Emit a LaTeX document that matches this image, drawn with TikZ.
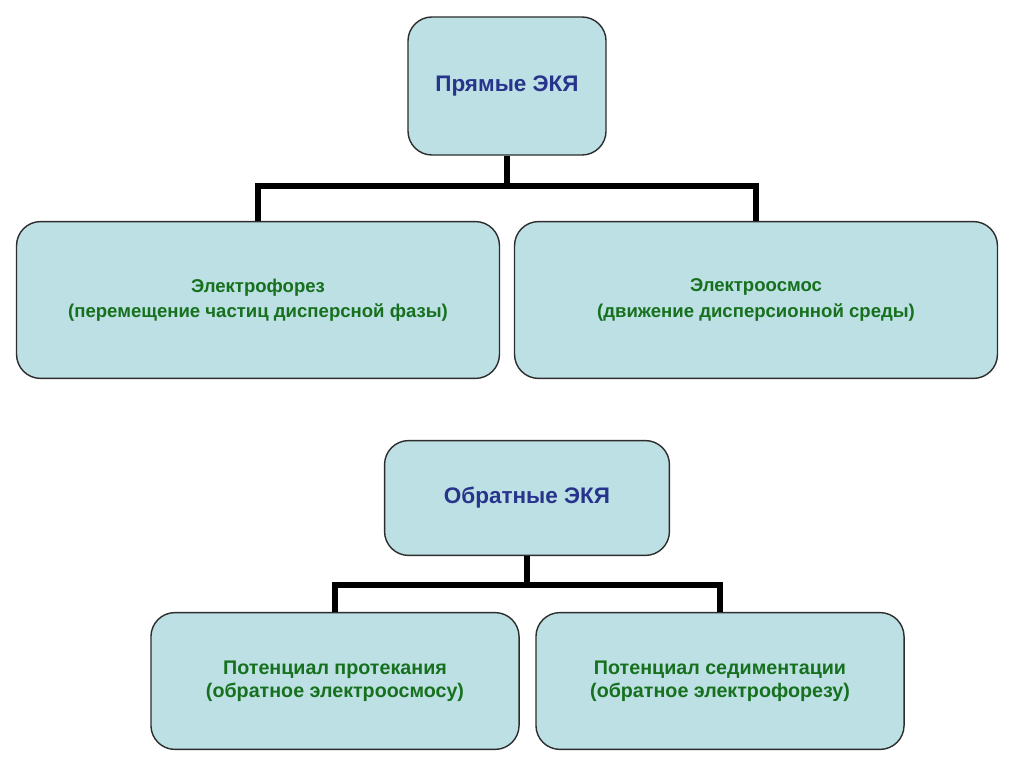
\documentclass[tikz,border=0pt]{standalone}
\usepackage{fontspec}
\setmainfont{Liberation Sans}
\usepackage{tikz}
\usetikzlibrary{positioning,calc}
\definecolor{boxfill}{RGB}{188,224,227}
\definecolor{boxline}{RGB}{45,45,45}
\definecolor{headblue}{RGB}{40,52,140}
\definecolor{subgreen}{RGB}{22,112,30}
\tikzset{
  headbox/.style={draw=boxline, line width=1pt, fill=boxfill, rounded corners=0.6cm, align=center, font=\bfseries\fontsize{16}{19}\selectfont, text=headblue},
  kindbox/.style={draw=boxline, line width=1pt, fill=boxfill, rounded corners=0.6cm, align=center, font=\bfseries\fontsize{13.2}{18}\selectfont, text=subgreen},
  potbox/.style={draw=boxline, line width=1pt, fill=boxfill, rounded corners=0.6cm, align=center, font=\bfseries\fontsize{14}{16.5}\selectfont, text=subgreen},
  link/.style={line width=4.3pt, black}
}
\begin{document}
\begin{tikzpicture}[x=0.025cm,y=-0.025cm]
  \useasboundingbox[fill=white] (0,0) rectangle (1024,767);
  % direct effects
  \node[headbox, minimum width=4.95cm, minimum height=3.45cm] (direct) at (507,86) {Прямые ЭКЯ};
  \node[kindbox, minimum width=12.07cm, minimum height=3.92cm] (phoresis) at (258,300) {Электрофорез\\(перемещение частиц дисперсной фазы)};
  \node[kindbox, minimum width=12.07cm, minimum height=3.92cm] (osmosis) at (756,300) {Электроосмос\\(движение дисперсионной среды)};
  \coordinate (j1) at (507,186);
  \draw[link] (direct.south) -- (j1);
  \draw[link] (j1) -| (phoresis.north);
  \draw[link] (j1) -| (osmosis.north);
  % reverse effects
  \node[headbox, minimum width=7.12cm, minimum height=2.87cm] (reverse) at (527,498) {Обратные ЭКЯ};
  \node[potbox, minimum width=9.2cm, minimum height=3.42cm] (flow) at (335,681) {Потенциал протекания\\(обратное электроосмосу)};
  \node[potbox, minimum width=9.2cm, minimum height=3.42cm] (sediment) at (720,681) {Потенциал седиментации\\(обратное электрофорезу)};
  \coordinate (j2) at (527,585);
  \draw[link] (reverse.south) -- (j2);
  \draw[link] (j2) -| (flow.north);
  \draw[link] (j2) -| (sediment.north);
\end{tikzpicture}
\end{document}
